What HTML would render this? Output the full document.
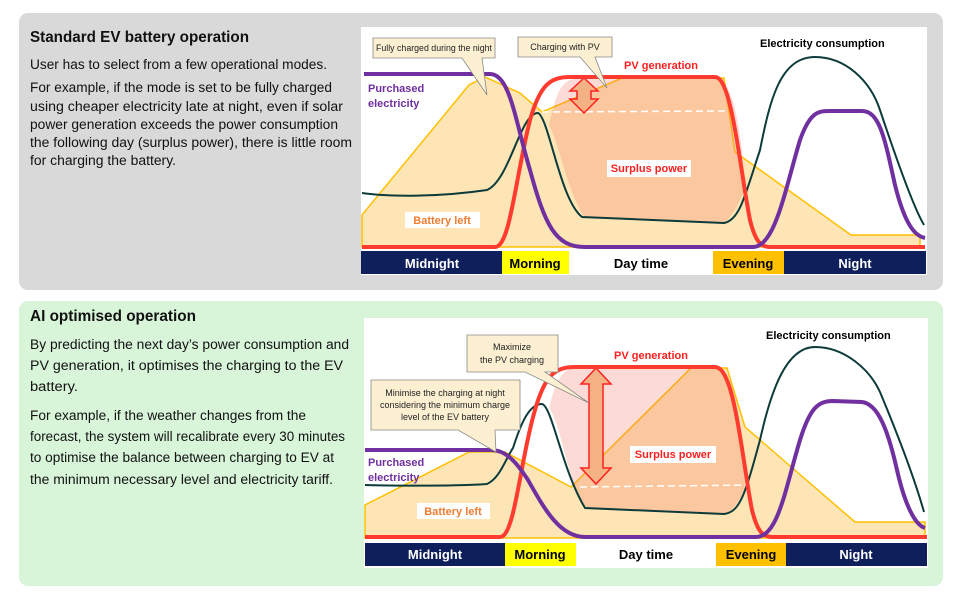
<!DOCTYPE html>
<html><head><meta charset="utf-8"><style>
html,body{margin:0;padding:0;background:#fff;}
svg{display:block;font-family:"Liberation Sans",sans-serif;}
.b{font-size:13.5px;fill:#111;}
.t{font-size:15.5px;font-weight:bold;fill:#111;}
.bar{font-size:13px;font-weight:bold;}
.lab{font-size:11px;font-weight:bold;}
.co{font-size:9px;fill:#222;}
</style></head><body>
<svg width="960" height="600" viewBox="0 0 960 600">
<rect x="19" y="13" width="924" height="277" rx="9" fill="#d9d9d9"/>
<rect x="19" y="301" width="924" height="285" rx="9" fill="#d8f5da"/>
<text class="t" x="30" y="42" textLength="219" lengthAdjust="spacingAndGlyphs">Standard EV battery operation</text>
<text class="b" x="30" y="69" textLength="297" lengthAdjust="spacingAndGlyphs">User has to select from a few operational modes.</text>
<text class="b" x="30" y="92" textLength="302" lengthAdjust="spacingAndGlyphs">For example, if the mode is set to be fully charged</text>
<text class="b" x="30" y="111" textLength="313" lengthAdjust="spacingAndGlyphs">using cheaper electricity late at night, even if solar</text>
<text class="b" x="30" y="129" textLength="308" lengthAdjust="spacingAndGlyphs">power generation exceeds the power consumption</text>
<text class="b" x="30" y="147" textLength="322" lengthAdjust="spacingAndGlyphs">the following day (surplus power), there is little room</text>
<text class="b" x="30" y="165" textLength="146" lengthAdjust="spacingAndGlyphs">for charging the battery.</text>
<text class="t" x="30" y="321" textLength="166" lengthAdjust="spacingAndGlyphs">AI optimised operation</text>
<text class="b" x="30" y="349" textLength="319" lengthAdjust="spacingAndGlyphs">By predicting the next day’s power consumption and</text>
<text class="b" x="30" y="370" textLength="313" lengthAdjust="spacingAndGlyphs">PV generation, it optimises the charging to the EV</text>
<text class="b" x="30" y="391" textLength="48" lengthAdjust="spacingAndGlyphs">battery.</text>
<text class="b" x="30" y="420" textLength="276" lengthAdjust="spacingAndGlyphs">For example, if the weather changes from the</text>
<text class="b" x="30" y="441" textLength="315" lengthAdjust="spacingAndGlyphs">forecast, the system will recalibrate every 30 minutes</text>
<text class="b" x="30" y="462" textLength="304" lengthAdjust="spacingAndGlyphs">to optimise the balance between charging to EV at</text>
<text class="b" x="30" y="484" textLength="303" lengthAdjust="spacingAndGlyphs">the minimum necessary level and electricity tariff.</text>

<!-- TOP CHART -->
<rect x="361" y="27" width="566" height="248" fill="#fff"/>
<polygon points="362,247 362,215 469,85 485,77 520,93 542,112 622,78 724,78 735,152 851,235 920,235 920,247" fill="#fee5b5" stroke="#ffc000" stroke-width="1.5"/>
<path d="M549,125 C556,95 560,78 580,78 L715,78 C735,78 742,140 745,188 C735,215 724,223 724,223 L585,217 C570,200 558,140 549,125 Z" fill="rgba(245,110,90,0.25)"/>
<line x1="542" y1="112" x2="725" y2="111" stroke="#fff" stroke-width="1.5" stroke-dasharray="7,4"/>
<path d="M584,78 L598,91 L591,91 L591,99 L598,99 L584,113 L570,99 L577,99 L577,91 L570,91 Z" fill="#f4b183" stroke="#ff2020" stroke-width="1.5"/>
<path d="M362,193 C390,197 440,197 487,190 C510,180 520,113 538,113 C549,118 560,200 582,217 L724,223 C740,220 745,195 760,150 C770,100 780,57 815,57 C845,57 870,80 880,110 C900,170 915,210 924,225" fill="none" stroke="#0d3b3b" stroke-width="2"/>
<path d="M362,247 L495,247 C510,247 515,180 530,120 C540,85 550,77 570,77 L715,77 C732,77 740,170 750,220 C755,240 760,247 770,247 L925,247" fill="none" stroke="#ff3b2f" stroke-width="4"/>
<path d="M364,74 L490,74 C510,74 515,120 530,170 C545,225 555,247 585,247 L753,247 C775,247 785,190 800,140 C810,112 818,111 830,111 L862,111 C880,111 885,140 895,185 C905,225 915,236 925,238" fill="none" stroke="#7030a0" stroke-width="4"/>
<rect x="361" y="251" width="141" height="23" fill="#0e1f5b"/>
<rect x="502" y="251" width="67" height="23" fill="#ffff00"/>
<rect x="569" y="251" width="144" height="23" fill="#fff"/>
<rect x="713" y="251" width="71" height="23" fill="#ffc000"/>
<rect x="784" y="251" width="142" height="23" fill="#0e1f5b"/>
<text class="bar" x="432" y="268" text-anchor="middle" fill="#fff">Midnight</text>
<text class="bar" x="535" y="268" text-anchor="middle" fill="#000">Morning</text>
<text class="bar" x="641" y="268" text-anchor="middle" fill="#000">Day time</text>
<text class="bar" x="748" y="268" text-anchor="middle" fill="#000">Evening</text>
<text class="bar" x="855" y="268" text-anchor="middle" fill="#fff">Night</text>
<path d="M373,38 L495,38 L495,58 L482,58 L487,95 L462,58 L373,58 Z" fill="#fdf0d2" stroke="#888" stroke-width="0.8"/>
<text class="co" x="434" y="51" text-anchor="middle" textLength="116" lengthAdjust="spacingAndGlyphs">Fully charged during the night</text>
<path d="M518,37 L612,37 L612,57 L595,57 L607,88 L580,57 L518,57 Z" fill="#fdf0d2" stroke="#888" stroke-width="0.8"/>
<text class="co" x="565" y="50" text-anchor="middle">Charging with PV</text>
<text class="lab" x="760" y="47" fill="#000">Electricity consumption</text>
<text class="lab" x="624" y="69" fill="#ff2020">PV generation</text>
<text class="lab" x="368" y="92" fill="#7030a0">Purchased</text>
<text class="lab" x="368" y="107" fill="#7030a0">electricity</text>
<rect x="607" y="160" width="84" height="17" fill="#fff"/>
<text class="lab" x="649" y="172" text-anchor="middle" fill="#ff2020">Surplus power</text>
<rect x="405" y="212" width="75" height="16" fill="#fff"/>
<text class="lab" x="442" y="224" text-anchor="middle" fill="#ed7d31">Battery left</text>

<!-- BOTTOM CHART -->
<rect x="364" y="318" width="564" height="250" fill="#fff"/>
<polygon points="365,538 365,505 469,452 505,452 571,487 691,368 727,368 745,427 855,522 925,522 925,538" fill="#fee5b5" stroke="#ffc000" stroke-width="1.5"/>
<path d="M549,408 C556,380 562,367 580,367 L715,367 C733,367 740,430 745,488 C735,512 724,514 724,514 L585,508 C570,490 560,420 549,408 Z" fill="rgba(245,110,90,0.25)"/>
<line x1="580" y1="487" x2="750" y2="485" stroke="#fff" stroke-width="1.5" stroke-dasharray="7,4"/>
<path d="M596,368 L611,384 L603,384 L603,468 L611,468 L596,484 L581,468 L589,468 L589,384 L581,384 Z" fill="#f4b183" stroke="#ff2020" stroke-width="1.5"/>
<path d="M365,485 C400,486 460,486 487,484 C500,478 505,460 513,448 C522,420 530,404 542,404 C552,406 562,470 585,508 L724,514 C740,512 745,495 760,440 C770,395 785,347 815,347 C845,347 870,370 880,392 C900,440 915,480 924,512" fill="none" stroke="#0d3b3b" stroke-width="2"/>
<path d="M365,537 L500,537 C515,537 520,460 535,410 C545,375 555,367 575,367 L715,367 C735,367 742,460 752,510 C757,530 762,537 772,537 L927,537" fill="none" stroke="#ff3b2f" stroke-width="4"/>
<path d="M365,450 L491,450 C505,450 515,460 528,480 C545,510 560,537 585,537 L756,537 C778,537 785,490 800,440 C810,408 818,401 833,401 L862,402 C878,404 888,430 897,470 C905,505 915,525 925,528" fill="none" stroke="#7030a0" stroke-width="4"/>
<rect x="365" y="543" width="140" height="23" fill="#0e1f5b"/>
<rect x="505" y="543" width="71" height="23" fill="#ffff00"/>
<rect x="576" y="543" width="140" height="23" fill="#fff"/>
<rect x="716" y="543" width="70" height="23" fill="#ffc000"/>
<rect x="786" y="543" width="141" height="23" fill="#0e1f5b"/>
<text class="bar" x="435" y="559" text-anchor="middle" fill="#fff">Midnight</text>
<text class="bar" x="540" y="559" text-anchor="middle" fill="#000">Morning</text>
<text class="bar" x="646" y="559" text-anchor="middle" fill="#000">Day time</text>
<text class="bar" x="751" y="559" text-anchor="middle" fill="#000">Evening</text>
<text class="bar" x="856" y="559" text-anchor="middle" fill="#fff">Night</text>
<path d="M467,335 L558,335 L558,372 L545,372 L589,403 L525,372 L467,372 Z" fill="#fdf0d2" stroke="#888" stroke-width="0.8"/>
<text class="co" x="512" y="350" text-anchor="middle">Maximize</text>
<text class="co" x="512" y="363" text-anchor="middle">the PV charging</text>
<path d="M371,380 L520,380 L520,430 L495,430 L496,452 L458,430 L371,430 Z" fill="#fdf0d2" stroke="#888" stroke-width="0.8"/>
<text class="co" x="445" y="396" text-anchor="middle">Minimise the charging at night</text>
<text class="co" x="445" y="408" text-anchor="middle">considering the minimum charge</text>
<text class="co" x="445" y="420" text-anchor="middle">level of the EV battery</text>
<text class="lab" x="766" y="339" fill="#000">Electricity consumption</text>
<text class="lab" x="614" y="359" fill="#ff2020">PV generation</text>
<text class="lab" x="368" y="466" fill="#7030a0">Purchased</text>
<text class="lab" x="368" y="481" fill="#7030a0">electricity</text>
<rect x="630" y="446" width="86" height="17" fill="#fff"/>
<text class="lab" x="673" y="458" text-anchor="middle" fill="#ff2020">Surplus power</text>
<rect x="417" y="503" width="73" height="16" fill="#fff"/>
<text class="lab" x="453" y="515" text-anchor="middle" fill="#ed7d31">Battery left</text>
</svg>
</body></html>
